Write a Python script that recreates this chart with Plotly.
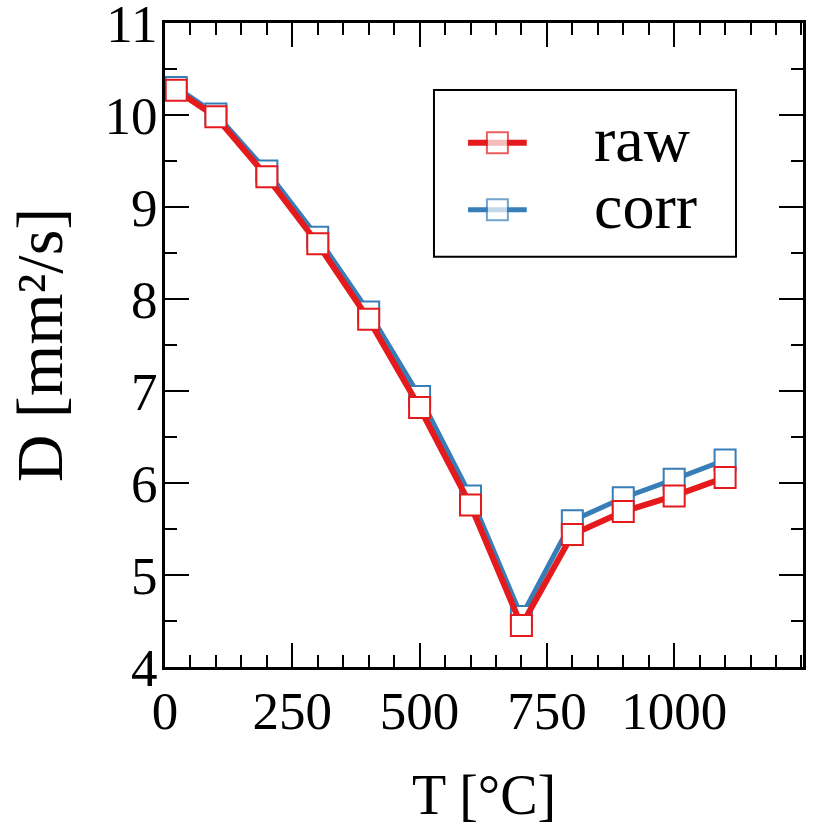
import plotly.graph_objects as go

# ---- data ----
T = [22, 100, 200, 300, 400, 500, 600, 700, 800, 900, 1000, 1100]
D_raw = [10.27, 9.98, 9.33, 8.60, 7.78, 6.82, 5.76, 4.45, 5.44, 5.69, 5.86, 6.06]
D_corr = [10.30, 10.01, 9.39, 8.67, 7.86, 6.94, 5.86, 4.55, 5.59, 5.84, 6.04, 6.25]
series_names = ["raw", "corr"]
x_tickvals = [0, 250, 500, 750, 1000]
y_tickvals = [4, 5, 6, 7, 8, 9, 10, 11]
x_title = "T [°C]"
y_title = "D [mm²/s]"

RED = "#e41a1c"
BLUE = "#377eb8"
FONT = "Liberation Serif"

fig = go.Figure()

# corr first so raw sits on top
fig.add_trace(go.Scatter(
    x=T, y=D_corr, mode="lines+markers", name=series_names[1],
    line=dict(color=BLUE, width=5),
    marker=dict(symbol="square", size=21, color="white",
                line=dict(color=BLUE, width=2)),
    showlegend=False,
))
fig.add_trace(go.Scatter(
    x=T, y=D_raw, mode="lines+markers", name=series_names[0],
    line=dict(color=RED, width=6),
    marker=dict(symbol="square", size=21, color="white",
                line=dict(color=RED, width=2)),
    showlegend=False,
))

# ---- custom legend (overlay axes in [0,1]) ----
leg_items = [(series_names[0], RED, 6, 0.814), (series_names[1], BLUE, 5, 0.71)]
for name, col, lw, yy in leg_items:
    fig.add_trace(go.Scatter(
        x=[0.475, 0.521, 0.567], y=[yy, yy, yy], mode="lines+markers",
        xaxis="x2", yaxis="y2", showlegend=False, hoverinfo="skip",
        line=dict(color=col, width=lw),
        marker=dict(symbol="square", size=[0, 21, 0], color="white",
                    line=dict(color=col, width=[0, 2, 0])),
    ))
    fig.add_annotation(x=0.670, y=yy + 0.005, xref="x2", yref="y2", text=name,
                       showarrow=False, xanchor="left", yanchor="middle",
                       font=dict(family=FONT, size=64, color="black"))

fig.add_shape(type="rect", xref="x2", yref="y2",
              x0=0.4216, x1=0.895, y0=0.637, y1=0.896,
              line=dict(color="black", width=2), fillcolor="rgba(0,0,0,0)")

# axis titles
fig.add_annotation(x=0.5, y=-0.199, xref="paper", yref="paper", text=x_title,
                   showarrow=False, xanchor="center", yanchor="middle",
                   font=dict(family=FONT, size=56, color="black"))
fig.add_annotation(x=-0.197, y=0.5, xref="paper", yref="paper", text=y_title,
                   showarrow=False, xanchor="center", yanchor="middle", textangle=-90,
                   font=dict(family=FONT, size=66, color="black"))

axis_common = dict(
    showline=True, linecolor="black", linewidth=3, mirror="ticks",
    ticks="inside", tickcolor="black", tickwidth=2, ticklen=24,
    showgrid=False, zeroline=False, ticklabeloverflow="allow",
    automargin=False,
    tickfont=dict(family=FONT, size=53, color="black"),
)

fig.update_layout(
    width=826, height=826,
    margin=dict(l=165, r=23, t=23, b=159),
    paper_bgcolor="white", plot_bgcolor="white",
    xaxis=dict(range=[0, 1253], tickmode="array", tickvals=x_tickvals,
               ticklabelstandoff=-5,
               minor=dict(ticks="inside", dtick=50, ticklen=12, tickwidth=2,
                          tickcolor="black", showgrid=False),
               **axis_common),
    yaxis=dict(range=[4, 11], tickmode="array", tickvals=y_tickvals,
               ticklabelstandoff=-6,
               minor=dict(ticks="inside", dtick=0.5, ticklen=12, tickwidth=2,
                          tickcolor="black", showgrid=False),
               **axis_common),
    xaxis2=dict(overlaying="x", range=[0, 1], visible=False, fixedrange=True),
    yaxis2=dict(overlaying="y", range=[0, 1], visible=False, fixedrange=True),
    showlegend=False,
)

fig.write_html("out.html", config={"displayModeBar": False},
               post_script="document.body.style.margin='0px';")
